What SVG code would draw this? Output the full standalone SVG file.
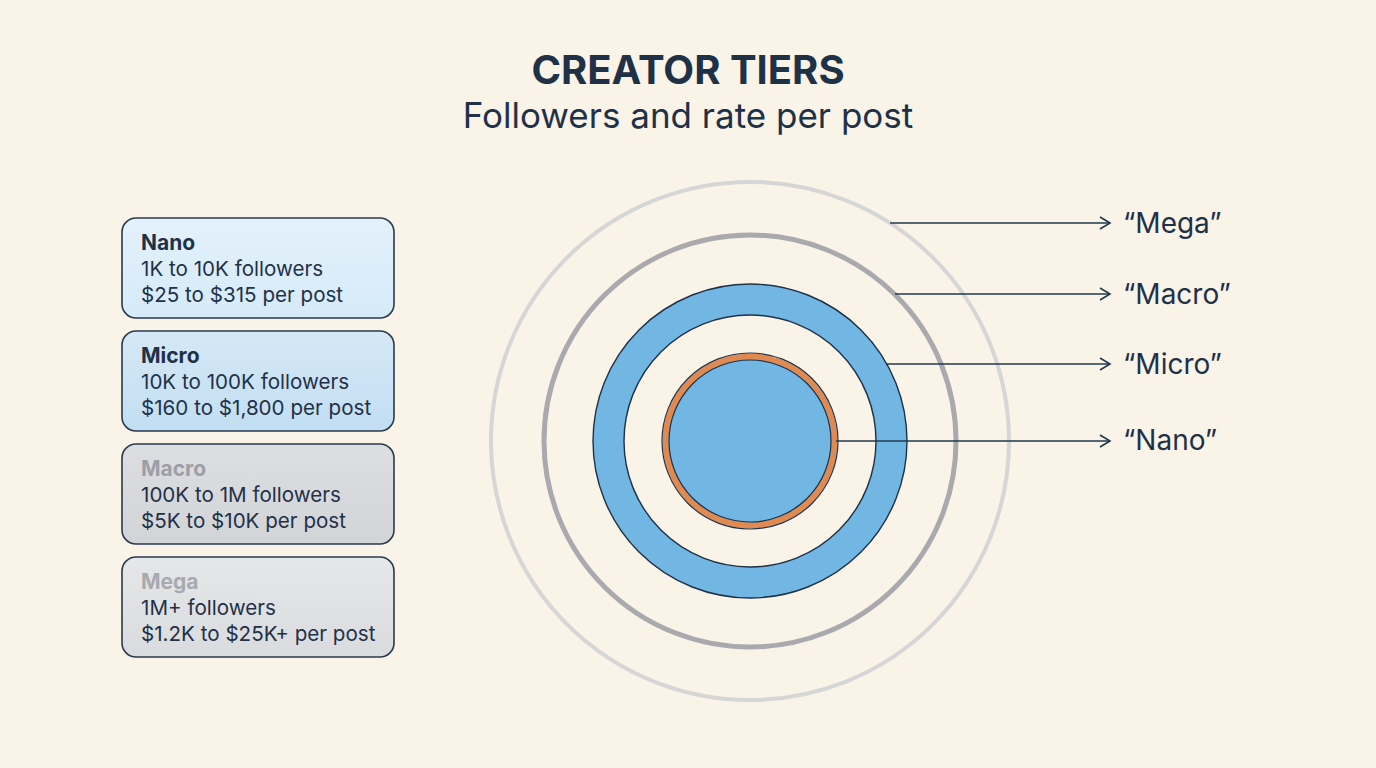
<svg xmlns="http://www.w3.org/2000/svg" width="1376" height="768" viewBox="0 0 1376 768">
<style>
.t{font-family:Inter,"Liberation Sans",sans-serif;fill:#1f3147}
.h{font-weight:700;font-size:21px}
.b{font-size:20.6px}
.lbl{font-size:28px}
.box{stroke:#2a3a4c;stroke-width:1.6}
.con{stroke:#23384e;stroke-width:1.6;fill:none}
</style>
<defs>
<marker id="ar" markerWidth="14" markerHeight="14" refX="12" refY="7" orient="auto" markerUnits="userSpaceOnUse"><path d="M2,1 L12,7 L2,13" fill="none" stroke="#23384e" stroke-width="1.6"/></marker>
<linearGradient id="g1" x1="0" y1="0" x2="0" y2="1"><stop offset="0" stop-color="#e3f1fb"/><stop offset="1" stop-color="#d6eaf8"/></linearGradient>
<linearGradient id="g2" x1="0" y1="0" x2="0" y2="1"><stop offset="0" stop-color="#d5e8f6"/><stop offset="1" stop-color="#c2def2"/></linearGradient>
<linearGradient id="g3" x1="0" y1="0" x2="0" y2="1"><stop offset="0" stop-color="#dddee1"/><stop offset="1" stop-color="#d2d4d8"/></linearGradient>
<linearGradient id="g4" x1="0" y1="0" x2="0" y2="1"><stop offset="0" stop-color="#e6e7e9"/><stop offset="1" stop-color="#dadbde"/></linearGradient>
</defs>
<rect width="1376" height="768" fill="#faf3e8"/>
<text class="t" x="688" y="84" text-anchor="middle" font-size="40" font-weight="700">CREATOR TIERS</text>
<text class="t" x="688" y="128" text-anchor="middle" font-size="35">Followers and rate per post</text>
<g id="nano-card"><rect class="box" x="122" y="218" width="272" height="100" rx="14" fill="url(#g1)"/>
<text class="t h" x="141" y="250">Nano</text><text class="t b" x="141" y="276">1K to 10K followers</text><text class="t b" x="141" y="302">$25 to $315 per post</text></g>
<g id="micro-card"><rect class="box" x="122" y="331" width="272" height="100" rx="14" fill="url(#g2)"/>
<text class="t h" x="141" y="363">Micro</text><text class="t b" x="141" y="389">10K to 100K followers</text><text class="t b" x="141" y="415">$160 to $1,800 per post</text></g>
<g id="macro-card"><rect class="box" x="122" y="444" width="272" height="100" rx="14" fill="url(#g3)"/>
<text class="t h" x="141" y="476" style="fill:#9c9fa6">Macro</text><text class="t b" x="141" y="502">100K to 1M followers</text><text class="t b" x="141" y="528">$5K to $10K per post</text></g>
<g id="mega-card"><rect class="box" x="122" y="557" width="272" height="100" rx="14" fill="url(#g4)"/>
<text class="t h" x="141" y="589" style="fill:#a7aab0">Mega</text><text class="t b" x="141" y="615">1M+ followers</text><text class="t b" x="141" y="641">$1.2K to $25K+ per post</text></g>
<g id="rings">
<circle id="ring-mega" cx="750" cy="441" r="259" fill="none" stroke="#d6d6d6" stroke-width="4"/>
<circle id="ring-macro" cx="750" cy="441" r="206" fill="none" stroke="#a9a9ae" stroke-width="5"/>
<circle id="ring-micro" cx="750" cy="441" r="141.5" fill="none" stroke="#72b6e3" stroke-width="31"/>
<circle cx="750" cy="441" r="157" fill="none" stroke="#1f3147" stroke-width="1.4"/>
<circle cx="750" cy="441" r="126" fill="none" stroke="#1f3147" stroke-width="1.4"/>
<circle id="ring-nano" cx="750" cy="441" r="84.5" fill="#72b6e3" stroke="#e08a52" stroke-width="6"/>
<circle cx="750" cy="441" r="88" fill="none" stroke="#1f3147" stroke-width="1.2"/>
<circle cx="750" cy="441" r="81" fill="none" stroke="#1f3147" stroke-width="1.2"/>
</g>
<g id="connectors">
<line class="con" x1="890" y1="223" x2="1110" y2="223" marker-end="url(#ar)"/>
<line class="con" x1="895" y1="294" x2="1110" y2="294" marker-end="url(#ar)"/>
<line class="con" x1="886" y1="364" x2="1110" y2="364" marker-end="url(#ar)"/>
<line class="con" x1="836" y1="441" x2="1110" y2="441" marker-end="url(#ar)"/>
</g>
<g id="labels">
<text class="t lbl" x="1123" y="233">“Mega”</text>
<text class="t lbl" x="1123" y="304">“Macro”</text>
<text class="t lbl" x="1123" y="374">“Micro”</text>
<text class="t lbl" x="1123" y="450">“Nano”</text>
</g>
</svg>
